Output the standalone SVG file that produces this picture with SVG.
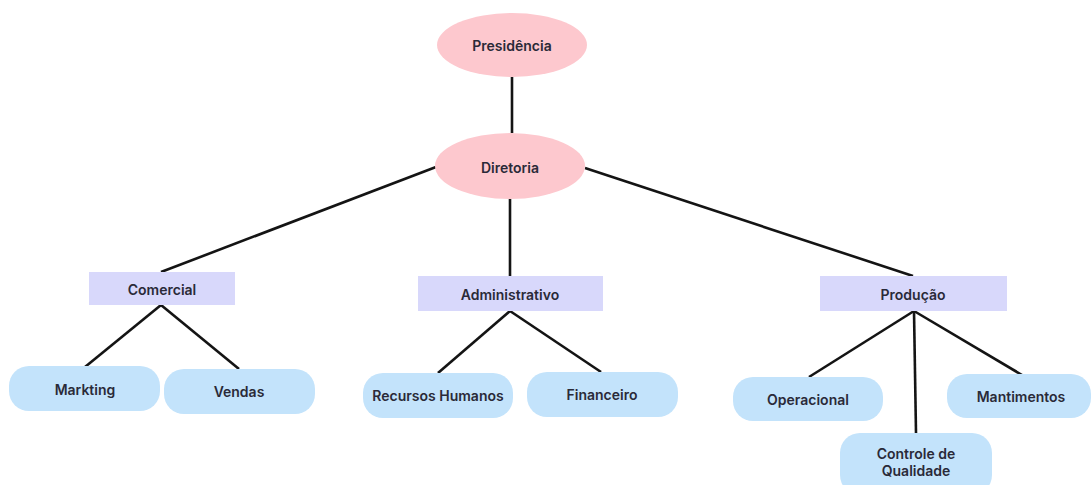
<svg xmlns="http://www.w3.org/2000/svg" width="1091" height="485" viewBox="0 0 1091 485">
<style>
.bg{fill:#ffffff}
.e{fill:#fdc8ce}
.r{fill:#d8d8fb}
.p{fill:#c3e3fb}
.c line{stroke:#141414;stroke-width:2.6;stroke-linecap:butt}
text{font-family:Inter,"Noto Sans","Liberation Sans",sans-serif;font-weight:600;font-size:14px;fill:#2a2a38;text-anchor:middle;dominant-baseline:central}
</style>
<rect class="bg" x="0" y="0" width="1091" height="485"/>
<g class="c" id="connectors">
<line x1="512" y1="77" x2="512" y2="133"/>
<line x1="436" y1="167" x2="161" y2="272"/>
<line x1="510" y1="199" x2="510" y2="276"/>
<line x1="585" y1="168" x2="913" y2="276"/>
<line x1="161" y1="305" x2="85" y2="367"/>
<line x1="161" y1="305" x2="239" y2="369"/>
<line x1="510" y1="311" x2="438" y2="373"/>
<line x1="510" y1="311" x2="601" y2="372"/>
<line x1="914" y1="311" x2="809" y2="377"/>
<line x1="914" y1="311" x2="916" y2="433"/>
<line x1="914" y1="311" x2="1022" y2="375"/>
</g>
<g id="presidencia"><ellipse class="e" cx="512" cy="45" rx="75" ry="32"/><text x="512" y="45">Presidência</text></g>
<g id="diretoria"><ellipse class="e" cx="510" cy="166" rx="75" ry="33"/><text x="510" y="167">Diretoria</text></g>
<g id="comercial"><rect class="r" x="89" y="272" width="146" height="33"/><text x="162" y="289">Comercial</text></g>
<g id="administrativo"><rect class="r" x="418" y="276" width="185" height="35"/><text x="510" y="294">Administrativo</text></g>
<g id="producao"><rect class="r" x="820" y="276" width="187" height="35"/><text x="913" y="294">Produção</text></g>
<g id="markting"><rect class="p" x="9" y="366" width="151" height="45" rx="20"/><text x="85" y="389">Markting</text></g>
<g id="vendas"><rect class="p" x="164" y="369" width="151" height="45" rx="20"/><text x="239" y="391">Vendas</text></g>
<g id="rh"><rect class="p" x="363" y="373" width="150" height="45" rx="20"/><text x="438" y="395">Recursos Humanos</text></g>
<g id="financeiro"><rect class="p" x="527" y="372" width="151" height="45" rx="20"/><text x="602" y="394">Financeiro</text></g>
<g id="operacional"><rect class="p" x="733" y="377" width="150" height="44" rx="20"/><text x="808" y="399">Operacional</text></g>
<g id="mantimentos"><rect class="p" x="947" y="374" width="144" height="44" rx="20"/><text x="1021" y="396">Mantimentos</text></g>
<g id="controle"><rect class="p" x="840" y="433" width="152" height="62" rx="20"/><text x="916" y="453">Controle de</text><text x="916" y="470">Qualidade</text></g>
</svg>
